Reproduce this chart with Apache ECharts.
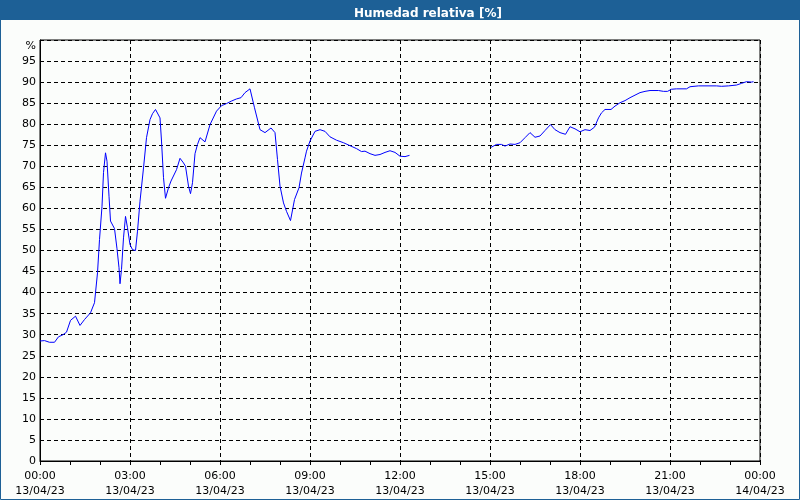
<!DOCTYPE html>
<html>
<head>
<meta charset="utf-8">
<script src="https://cdn.jsdelivr.net/npm/echarts@6/dist/echarts.min.js"></script>
<style>
html,body{margin:0;padding:0;background:#fbfdfb;}
#chart{width:800px;height:500px;}
</style>
</head>
<body>
<div id="chart"></div>
<script>
// minutes since 13/04/23 00:00
const minutes = [0,9,19,29,37,46,53,61,71,80,89,101,109,115,119,124,127,131,134,138,141,149,154,158,160,163,167,171,175,180,185,191,195,200,207,213,220,225,231,240,243,247,251,257,262,273,280,287,291,297,301,305,310,315,320,330,340,353,363,373,383,393,402,410,420,429,440,450,462,470,475,480,487,493,501,509,518,523,530,533,540,550,560,570,580,593,607,620,633,643,650,660,670,680,690,700,710,720,730,739,
  820,
  902,913,923,930,940,950,960,970,980,990,1000,1010,1021,1030,1040,1051,1060,1070,1080,1090,1100,1109,1117,1123,1130,1142,1150,1160,1170,1180,1190,1200,1210,1220,1237,1247,1255,1263,1273,1293,1300,1317,1353,1363,1377,1393,1403,1413,1423,1427];
const humidity = [28.5,28.6,28.2,28.2,29.5,30,30.6,33.4,34.4,32.2,33.6,35.2,37.6,44.7,52.6,60.5,68.5,73.2,71.2,62.9,57.0,55.2,50.4,45.9,42.1,45.5,53,58.1,55.4,51.4,50.2,50,54.6,61.7,69.6,76.8,81.1,82.5,83.5,81.5,76,67.3,62.4,64.9,66.5,69.2,71.9,70.8,70,65.3,63.5,66.1,73,75.2,76.8,75.8,79.9,83.1,84.4,84.9,85.5,86,86.3,87.5,88.4,83.9,78.7,78,79.1,78,71.6,65.3,61.3,59.3,57.1,62.1,64.9,68.4,72,73.6,76,78.3,78.7,78.3,77,76.2,75.6,74.9,74.2,73.5,73.6,73,72.6,72.8,73.3,73.7,73.3,72.4,72.3,72.6,
  null,
  74.5,75.2,75.2,74.8,75.3,75.2,75.6,76.8,78,76.9,77.2,78.5,79.9,78.7,78,77.6,79.4,78.9,78.2,78.7,78.5,79.3,81.5,82.7,83.5,83.5,84.3,85.1,85.6,86.3,86.9,87.5,87.8,88,88,87.8,87.8,88.3,88.4,88.4,88.9,89.1,89.1,89,89.1,89.3,89.7,90.1,90,90.1];
const xTickTimes = ['00:00','03:00','06:00','09:00','12:00','15:00','18:00','21:00','00:00'];
const xTickDates = ['13/04/23','13/04/23','13/04/23','13/04/23','13/04/23','13/04/23','13/04/23','13/04/23','14/04/23'];
const yTickLabels = ['0','5','10','15','20','25','30','35','40','45','50','55','60','65','70','75','80','85','90','95','%'];

const seriesData = minutes.map((m, i) => [m, humidity[i]]);
const font = 'Tahoma, "DejaVu Sans", sans-serif';
const gridTop = 40, gridBottom = 39, chartH = 500;

const chart = echarts.init(document.getElementById('chart'), null, {renderer: 'canvas'});
chart.setOption({
  backgroundColor: '#fbfdfb',
  animation: false,
  graphic: [
    {type: 'rect', shape: {x: 0, y: 0, width: 800, height: 20}, style: {fill: '#1d6096'}, z: -1},
    {type: 'rect', shape: {x: 0.5, y: 0.5, width: 799, height: 499}, style: {fill: 'none', stroke: '#1d6096', lineWidth: 1}, z: -1}
  ],
  title: {
    text: 'Humedad relativa [%]',
    left: 349, top: 3,
    textStyle: {color: '#ffffff', fontSize: 12, fontWeight: 'bold', fontFamily: font}
  },
  grid: {left: 40, right: 40, top: gridTop, bottom: gridBottom, show: true, borderColor: '#000', borderWidth: 1, backgroundColor: 'transparent'},
  xAxis: [{
    type: 'value', min: 0, max: 1440, interval: 180, position: 'bottom',
    axisLine: {show: true, onZero: false, lineStyle: {color: '#000', width: 1}},
    axisTick: {show: false},
    minorTick: {show: false},
    minorSplitLine: {show: false},
    splitArea: {show: false},
    splitLine: {show: true, lineStyle: {color: '#000', type: [4, 3], width: 1}},
    axisLabel: {
      margin: 8, color: '#000', fontSize: 11, fontFamily: font, lineHeight: 15,
      formatter: v => { const i = Math.round(v / 180); return xTickTimes[i] + '\n' + xTickDates[i]; }
    }
  }, {
    // hourly tick marks only, moved down onto the bottom axis line
    type: 'value', min: 0, max: 1440, interval: 60, position: 'top', gridIndex: 0,
    offset: -(chartH - gridTop - gridBottom),
    axisLine: {show: false, onZero: false},
    axisTick: {show: true, inside: true, length: 4, lineStyle: {color: '#000', width: 1}},
    minorTick: {show: false},
    minorSplitLine: {show: false},
    splitArea: {show: false},
    axisLabel: {show: false},
    splitLine: {show: false}
  }],
  yAxis: {
    type: 'value', min: 0, max: 100, interval: 5,
    axisLine: {show: true, onZero: false, lineStyle: {color: '#000', width: 1}},
    axisTick: {show: false},
    splitLine: {show: true, lineStyle: {color: '#000', type: [4, 3], width: 1}},
    axisLabel: {
      margin: 4, color: '#000', fontSize: 11, fontFamily: font,
      formatter: v => { const i = Math.round(v / 5); return i === 20 ? '{pct|' + yTickLabels[i] + '}' : yTickLabels[i]; },
      rich: {pct: {color: '#000', fontSize: 11, fontFamily: font, padding: [12, 0, 0, 0]}}
    }
  },
  series: [{
    type: 'line', xAxisIndex: 0, data: seriesData, showSymbol: false, connectNulls: false,
    lineStyle: {color: '#0000ff', width: 1}, itemStyle: {color: '#0000ff'}
  }]
});
</script>
</body>
</html>
